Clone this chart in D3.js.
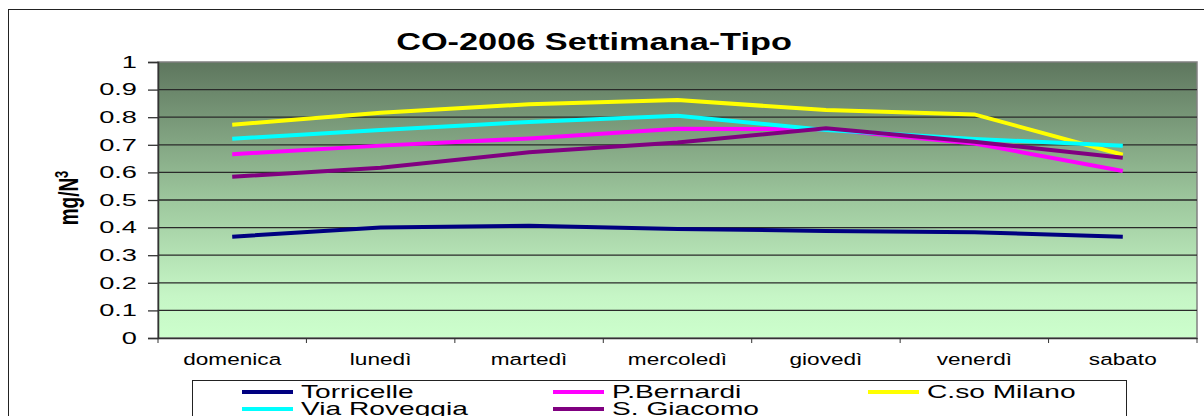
<!DOCTYPE html>
<html>
<head>
<meta charset="utf-8">
<script src="https://cdn.jsdelivr.net/npm/d3@7"></script>
<style>
  body { margin: 0; background: #fff; }
  text { font-family: Arial, "Liberation Sans", sans-serif; }
</style>
</head>
<body>
<div id="chart"></div>
<script>
// Days of the week and CO averages (mg/Nm3)
const days = ["domenica", "lunedì", "martedì", "mercoledì", "giovedì", "venerdì", "sabato"]
const torricelle  = [0.367, 0.400, 0.407, 0.395, 0.388, 0.383, 0.367]
const bernardi    = [0.666, 0.697, 0.723, 0.758, 0.756, 0.705, 0.605]
const milano      = [0.773, 0.816, 0.847, 0.862, 0.826, 0.810, 0.664]
const roveggia    = [0.722, 0.754, 0.783, 0.805, 0.754, 0.721, 0.697]
const giacomo     = [0.584, 0.617, 0.673, 0.708, 0.760, 0.711, 0.653]
const yTicks = [0, 0.1, 0.2, 0.3, 0.4, 0.5, 0.6, 0.7, 0.8, 0.9, 1]

const series = [
  {name: "Torricelle",   values: torricelle, color: "#000080"},
  {name: "P.Bernardi",   values: bernardi,   color: "#ff00ff"},
  {name: "C.so Milano",  values: milano,     color: "#ffff00"},
  {name: "Via Roveggia", values: roveggia,   color: "#00ffff"},
  {name: "S. Giacomo",   values: giacomo,    color: "#800080"}
]

var width = 1204
var height = 416
var plot = {left: 158, right: 1197, top: 62, bottom: 338}

// the original picture is stretched sideways, so texts get a horizontal scale
var fontFam = "Arial, 'Liberation Sans', sans-serif"

var svg = d3.select("#chart")
          .append("svg")
            .attr("width", width)
            .attr("height", height)

// outer frame
svg.append("rect")
    .attr("x", 8.5).attr("y", 9.5)
    .attr("width", 1204).attr("height", 420)
    .attr("fill", "#fff")
    .attr("stroke", "#222")
    .attr("stroke-width", 1)

// gradient for plot area
var grad = svg.append("defs").append("linearGradient")
              .attr("id", "bg").attr("x1", 0).attr("y1", 0).attr("x2", 0).attr("y2", 1)
grad.append("stop").attr("offset", "0%").attr("stop-color", "#5e765e")
grad.append("stop").attr("offset", "50%").attr("stop-color", "#9dc79d")
grad.append("stop").attr("offset", "85%").attr("stop-color", "#c6f6c6")
grad.append("stop").attr("offset", "100%").attr("stop-color", "#ccffcc")

var x = d3.scaleBand()
          .domain(days)
          .range([plot.left, plot.right])

var y = d3.scaleLinear()
          .domain([0, 1])
          .range([plot.bottom, plot.top])

svg.append("rect")
    .attr("x", plot.left).attr("y", plot.top)
    .attr("width", plot.right - plot.left)
    .attr("height", plot.bottom - plot.top)
    .attr("fill", "url(#bg)")
    .attr("stroke", "#808080")
    .attr("stroke-width", 1.5)

// gridlines
svg.append("g")
    .selectAll("line")
    .data(yTicks.filter(d => d > 0 && d < 1))
    .enter().append("line")
      .attr("x1", plot.left).attr("x2", plot.right)
      .attr("y1", d => y(d)).attr("y2", d => y(d))
      .attr("stroke", "#2a2a2a")
      .attr("stroke-width", 1.3)

// y axis
var yAxis = svg.append("g")
    .attr("transform", "translate(" + plot.left + ",0)")
    .call(d3.axisLeft(y).tickValues(yTicks).tickSize(10).tickFormat(d3.format("")))
yAxis.select(".domain").attr("stroke", "#333").attr("stroke-width", 1.5)
yAxis.selectAll(".tick line").attr("stroke", "#333").attr("stroke-width", 1.3)
yAxis.selectAll("text")
    .attr("x", 0)
    .attr("transform", "translate(-21,0) scale(1.65,1)")
    .attr("font-size", 16.5).attr("fill", "#000")
    .attr("font-family", fontFam)

// x axis
var xAxis = svg.append("g")
    .attr("transform", "translate(0," + plot.bottom + ")")
    .call(d3.axisBottom(x).tickSize(0))
xAxis.select(".domain").attr("stroke", "#333").attr("stroke-width", 1.5)
xAxis.selectAll("text")
    .attr("y", 27).attr("dy", 0)
    .attr("transform", "scale(1.33,1)")
    .attr("font-size", 17).attr("fill", "#000")
    .attr("font-family", fontFam)

// category separator ticks
svg.append("g")
    .selectAll("line")
    .data(d3.range(days.length + 1))
    .enter().append("line")
      .attr("x1", i => plot.left + i * x.bandwidth())
      .attr("x2", i => plot.left + i * x.bandwidth())
      .attr("y1", plot.bottom).attr("y2", plot.bottom + 5)
      .attr("stroke", "#333").attr("stroke-width", 1)

// lines
var line = d3.line()
            .x((d, i) => x(days[i]) + x.bandwidth() / 2)
            .y(d => y(d))

svg.append("g")
    .selectAll("path")
    .data(series).enter()
    .append("path")
      .attr("d", d => line(d.values))
      .attr("fill", "none")
      .attr("stroke", d => d.color)
      .attr("stroke-width", 4)

// title
svg.append("text")
    .attr("transform", "translate(594,50) scale(1.46,1)")
    .attr("text-anchor", "middle")
    .attr("font-size", 23.5).attr("font-weight", "bold")
    .text("CO-2006 Settimana-Tipo")

// y label
var yl = svg.append("text")
    .attr("transform", "translate(78,198) scale(1.45,1) rotate(-90)")
    .attr("text-anchor", "middle")
    .attr("font-size", 19).attr("font-weight", "bold")
yl.append("tspan").text("mg/N")
yl.append("tspan").attr("dy", -7).attr("font-size", 13).text("3")

// legend
svg.append("rect")
    .attr("x", 192.5).attr("y", 380.5)
    .attr("width", 934).attr("height", 60)
    .attr("fill", "#fff").attr("stroke", "#222").attr("stroke-width", 1)

var legendPos = [[242, 392], [553, 392], [868, 392], [242, 409], [553, 409]]

var legend = svg.append("g")
    .selectAll("g")
    .data(series).enter()
    .append("g")
      .attr("transform", (d, i) => "translate(" + legendPos[i][0] + "," + legendPos[i][1] + ")")

legend.append("line")
    .attr("x1", 0).attr("x2", 51)
    .attr("stroke", d => d.color)
    .attr("stroke-width", 4)

legend.append("text")
    .attr("transform", "translate(59,6) scale(1.59,1)")
    .attr("font-size", 17.7)
    .text(d => d.name)
</script>
</body>
</html>
